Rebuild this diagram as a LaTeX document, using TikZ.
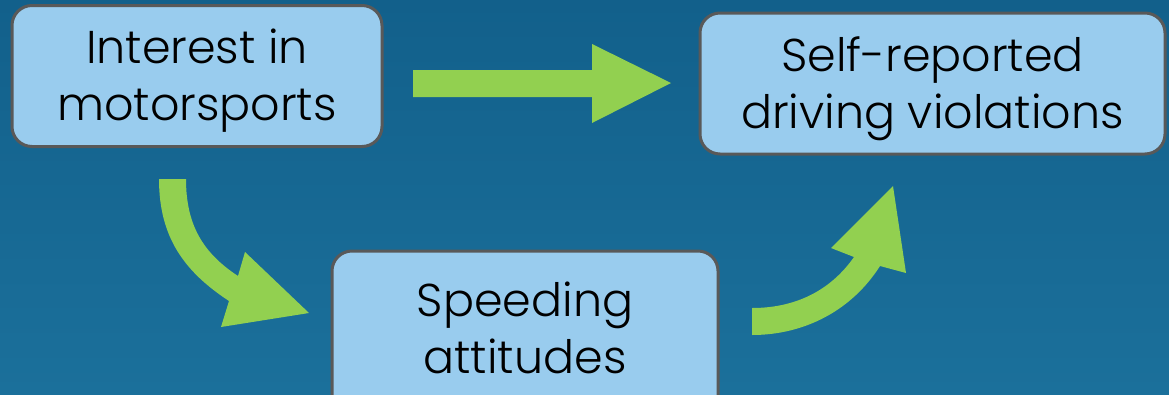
\documentclass[tikz,border=0pt]{standalone}
\usepackage{fontspec}
\setmainfont{Poppins}[UprightFont={* Light}]
\definecolor{bgtop}{RGB}{18,96,139}
\definecolor{bgbot}{RGB}{27,112,155}
\definecolor{boxfill}{RGB}{153,204,238}
\definecolor{boxedge}{RGB}{89,89,89}
\definecolor{arrowgreen}{RGB}{146,208,80}
\tikzset{
  box/.style={draw=boxedge, line width=3pt, fill=boxfill, rounded corners=20pt, inner sep=0pt},
  boxtext/.style={align=center, font=\fontsize{46}{57}\selectfont, text=black, inner sep=0pt},
  blockarrow/.style={fill=arrowgreen, draw=none}
}
\begin{document}
\begin{tikzpicture}[x=1pt,y=-1pt]
\useasboundingbox (0,0) rectangle (1169,394);
\shade[top color=bgtop, bottom color=bgbot] (0,0) rectangle (1169,394);
\begin{scope}
\clip (0,0) rectangle (1169,394);
\node[box, minimum width=370pt, minimum height=141pt] (interest) at (197,76) {};
\node[boxtext] (interestT) at (197,81) {Interest in\\motorsports};
\node[box, minimum width=465pt, minimum height=141pt] (selfrep) at (932.5,83.5) {};
\node[boxtext] (selfrepT) at (932.5,89) {Self-reported\\driving violations};
\node[box, minimum width=386pt, minimum height=170pt] (speeding) at (525,336) {};
\node[boxtext] (speedingT) at (525,327.5) {Speeding\\attitudes};
% straight arrow
\coordinate (a1) at (413,70);
\fill[blockarrow] (a1) -- (592,70) -- (592,44) -- (671,83) -- (592,123) -- (592,97) -- (413,97) -- cycle;
% curved arrow down
\coordinate (b1) at (159,179);
\fill[blockarrow] (b1) -- (186,179) .. controls (186,225) and (203,253) .. (238,276)
  -- (245,252) -- (309,313) -- (221,327) -- (229,301)
  .. controls (185,272) and (159,238) .. (159,179) -- cycle;
% curved arrow up
\coordinate (c1) at (752,308);
\fill[blockarrow] (c1) .. controls (800,308) and (833,287) .. (854,257)
  -- (831,248) -- (893,186) -- (906,273) -- (880,266)
  .. controls (852,310) and (805,335) .. (752,335) -- cycle;
\end{scope}
\end{tikzpicture}
\end{document}
